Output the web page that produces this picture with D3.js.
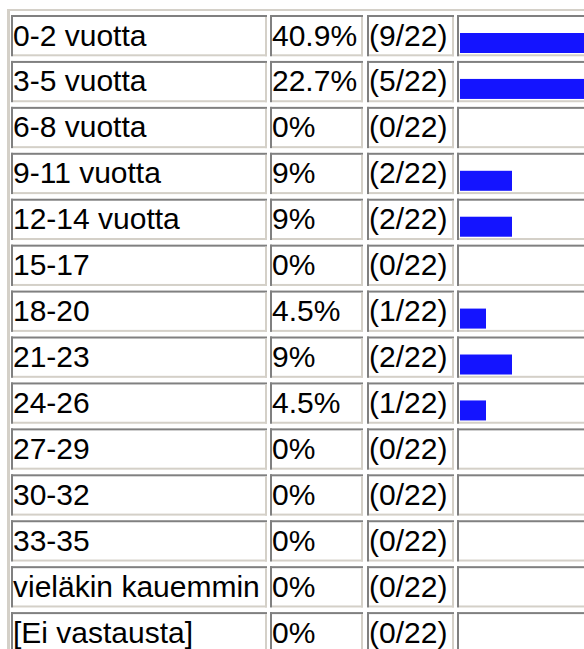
<!DOCTYPE html>
<html>
<head>
<meta charset="utf-8">
<script src="https://cdn.jsdelivr.net/npm/d3@7"></script>
<style>
  body { margin: 0; background: #fff; overflow: hidden; }
  svg { display: block; }
  .cell-text { font-family: "Liberation Sans", Arial, sans-serif; font-size: 30px; fill: #000; }
</style>
</head>
<body>
<svg id="myGraph" width="584" height="649"></svg>
<script>

// vastausvaihtoehdot
var categories = ["0-2 vuotta", "3-5 vuotta", "6-8 vuotta", "9-11 vuotta", "12-14 vuotta",
	"15-17", "18-20", "21-23", "24-26", "27-29", "30-32", "33-35",
	"vieläkin kauemmin", "[Ei vastausta]"]

// prosenttiluvut sellaisinaan kuin ne näytetään
var percentLabels = ["40.9%", "22.7%", "0%", "9%", "9%", "0%", "4.5%", "9%", "4.5%",
	"0%", "0%", "0%", "0%", "0%"]

// vastaajien määrä
var counts = [9, 5, 0, 2, 2, 0, 1, 2, 1, 0, 0, 0, 0, 0]
var total = 22

var svg = d3.select("#myGraph")

var dark = "#808080"
var light = "#d4d0c8"
var border = 2

// sarakkeiden reunat
var columns = [
	{ x0: 11, x1: 267 },
	{ x0: 270, x1: 363 },
	{ x0: 367, x1: 454 },
	{ x0: 457, x1: 760 }
]

var rowTop = 15
var rowStep = 45.6
var cellHeight = 41

var yScale = d3.scaleBand()
	.domain(categories)
	.range([rowTop, rowTop + rowStep * categories.length])
	.paddingInner((rowStep - cellHeight) / rowStep)
	.paddingOuter(0)
	.align(0)

// palkin leveys vastaajien määrän mukaan
var xScale = d3.scaleLinear()
	.domain([0, total])
	.range([0, 572])

// taulukon ulkoreuna
svg.append("rect").attr("x", 7).attr("y", 9).attr("width", 3).attr("height", 649).attr("fill", light)
svg.append("rect").attr("x", 7).attr("y", 9).attr("width", 600).attr("height", 2).attr("fill", light)

var rows = svg.selectAll("g.row")
	.data(categories)
	.enter()
	.append("g")
	.attr("class", "row")
	.attr("transform", function(d) { return "translate(0," + yScale(d) + ")" })

// solut (inset-reuna)
columns.forEach(function(c) {
	var w = c.x1 - c.x0
	var h = yScale.bandwidth()
	rows.append("rect").attr("x", c.x0).attr("y", 0).attr("width", w).attr("height", h).attr("fill", "#fff")
	rows.append("rect").attr("x", c.x0).attr("y", 0).attr("width", w).attr("height", border).attr("fill", dark)
	rows.append("rect").attr("x", c.x0).attr("y", 0).attr("width", border).attr("height", h).attr("fill", dark)
	rows.append("rect").attr("x", c.x0 + border).attr("y", h - border).attr("width", w - border).attr("height", border).attr("fill", light)
	rows.append("rect").attr("x", c.x1 - border).attr("y", border).attr("width", border).attr("height", h - border).attr("fill", light)
})

var baseline = 30.5

rows.append("text")
	.attr("class", "cell-text")
	.attr("x", columns[0].x0 + 2)
	.attr("y", baseline)
	.text(function(d) { return d })

rows.append("text")
	.attr("class", "cell-text")
	.attr("x", columns[1].x0 + 2)
	.attr("y", baseline)
	.text(function(d, i) { return percentLabels[i] })

rows.append("text")
	.attr("class", "cell-text")
	.attr("x", columns[2].x0 + 2)
	.attr("y", baseline)
	.text(function(d, i) { return "(" + counts[i] + "/" + total + ")" })

// palkit
rows.append("rect")
	.attr("x", columns[3].x0 + 3)
	.attr("y", 18)
	.attr("height", 20)
	.attr("width", function(d, i) { return xScale(counts[i]) })
	.attr("fill", "#1414ff")

</script>
</body>
</html>
